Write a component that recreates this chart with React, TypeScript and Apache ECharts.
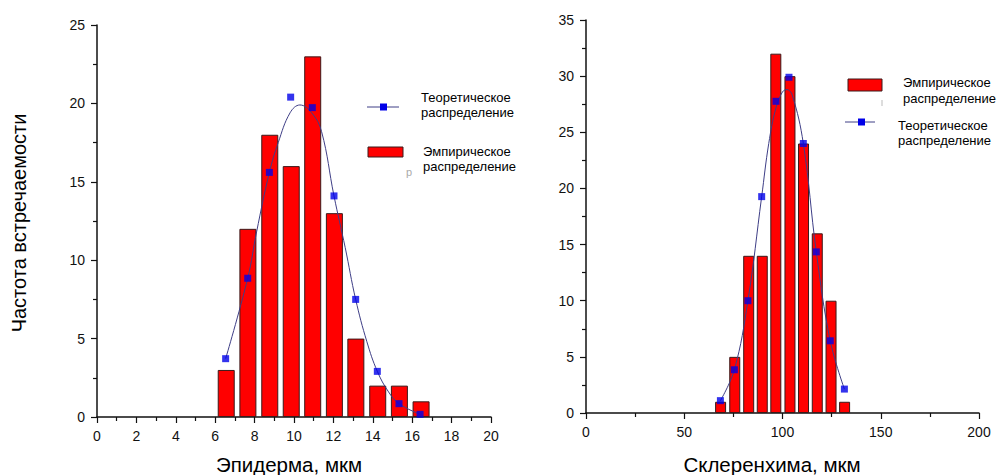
import React, { useEffect, useRef } from "react";
import * as echarts from "echarts";

// ---- Left chart: Эпидерма ----
const epiBarX = [6.56, 7.66, 8.77, 9.86, 10.95, 12.05, 13.14, 14.25, 15.35, 16.45];
const epiBarY = [3, 12, 18, 16, 23, 13, 5, 2, 2, 1];
const epiTheoX = [6.53, 7.65, 8.75, 9.83, 10.93, 12.03, 13.13, 14.23, 15.33, 16.4];
const epiTheoY = [3.72, 8.85, 15.6, 20.4, 19.73, 14.1, 7.5, 2.91, 0.85, 0.17];
const epiCurveX = [6.53, 7.65, 8.1, 8.75, 9.2, 9.8, 10.3, 10.9, 11.4, 12.03, 12.6, 13.13, 13.7, 14.23, 14.8, 15.33, 16.4];
const epiCurveY = [3.72, 8.85, 11.8, 15.6, 17.5, 19.4, 19.9, 19.4, 18.2, 14.1, 10.8, 7.5, 4.8, 2.91, 1.6, 0.85, 0.17];

// ---- Right chart: Склеренхима ----
const sklBarX = [68.5, 75.7, 82.8, 89.7, 96.6, 103.8, 110.7, 117.7, 124.7, 131.6];
const sklBarY = [1, 5, 14, 14, 32, 30, 24, 16, 10, 1];
const sklTheoX = [68.4, 75.5, 82.4, 89.4, 96.7, 103.3, 110.6, 117.2, 124.3, 131.5];
const sklTheoY = [1.1, 3.85, 10.0, 19.27, 27.76, 29.9, 24.0, 14.35, 6.43, 2.13];
const sklCurveX = [68.4, 75.5, 82.4, 89.4, 93, 96.7, 100, 102.3, 105, 110.6, 117.2, 124.3, 131.5];
const sklCurveY = [1.1, 3.85, 10.0, 19.27, 24.0, 27.2, 28.6, 28.8, 28.3, 24.0, 14.35, 6.43, 2.13];

const yTitle = "Частота встречаемости";
const epiTitle = "Эпидерма, мкм";
const sklTitle = "Склеренхима, мкм";
const theoName = "Теоретическое\nраспределение";
const empName = "Эмпирическое\nраспределение";

const FONT = "Arial, 'Liberation Sans', sans-serif";
const RED = "#ff0000";
const BLUE = "#0000e8";
const LINE = "#3e3e86";

const zip = (a: number[], b: number[]) => a.map((v, i) => [v, b[i]]);

function axisCommon() {
  return {
    axisLine: { show: true, onZero: false, lineStyle: { color: "#111", width: 1.5 } },
    axisTick: { show: true, inside: false, length: 6, lineStyle: { color: "#111", width: 1.2 } },
    minorTick: { show: true, splitNumber: 2, length: 4, lineStyle: { color: "#111", width: 1.2 } },
    splitLine: { show: false },
    minorSplitLine: { show: false },
    axisLabel: { color: "#111", fontSize: 14, fontFamily: FONT, margin: 12 },
  };
}

export default function App() {
  const ref = useRef<HTMLDivElement>(null);
  useEffect(() => {
    if (!ref.current) return;
    const chart = echarts.init(ref.current, undefined, { renderer: "svg" });
    const txt = (x: number, y: number, text: string, extra: any = {}) => ({
      type: "text",
      x,
      y,
      style: {
        text,
        font: `13px ${FONT}`,
        fill: "#000",
        lineHeight: 15,
        verticalAlign: "top",
        ...extra,
      },
      z: 10,
    });
    chart.setOption({
      animation: false,
      backgroundColor: "#fff",
      grid: [
        { left: 97, top: 25, width: 394, height: 392, containLabel: false },
        { left: 586, top: 20, width: 393, height: 393, containLabel: false },
      ],
      xAxis: [
        { type: "value", gridIndex: 0, min: 0, max: 20, interval: 2, ...axisCommon() },
        { type: "value", gridIndex: 1, min: 0, max: 200, interval: 50, ...axisCommon() },
      ],
      yAxis: [
        { type: "value", gridIndex: 0, min: 0, max: 25, interval: 5, ...axisCommon() },
        { type: "value", gridIndex: 1, min: 0, max: 35, interval: 5, ...axisCommon() },
      ],
      series: [
        {
          type: "bar",
          name: "Эмпирическое распределение",
          xAxisIndex: 0,
          yAxisIndex: 0,
          barWidth: 17,
          data: zip(epiBarX, epiBarY),
          itemStyle: { color: RED, borderColor: "#3a1a1a", borderWidth: 1 },
        },
        {
          type: "line",
          xAxisIndex: 0,
          yAxisIndex: 0,
          smooth: 0.4,
          showSymbol: false,
          data: zip(epiCurveX, epiCurveY),
          lineStyle: { color: LINE, width: 1 },
          z: 3,
        },
        {
          type: "scatter",
          name: "Теоретическое распределение",
          xAxisIndex: 0,
          yAxisIndex: 0,
          symbol: "rect",
          symbolSize: 7,
          data: zip(epiTheoX, epiTheoY),
          itemStyle: { color: BLUE },
          z: 4,
        },
        {
          type: "bar",
          name: "Эмпирическое распределение",
          xAxisIndex: 1,
          yAxisIndex: 1,
          barWidth: 11,
          data: zip(sklBarX, sklBarY),
          itemStyle: { color: RED, borderColor: "#3a1a1a", borderWidth: 1 },
        },
        {
          type: "line",
          xAxisIndex: 1,
          yAxisIndex: 1,
          smooth: 0.4,
          showSymbol: false,
          data: zip(sklCurveX, sklCurveY),
          lineStyle: { color: LINE, width: 1 },
          z: 3,
        },
        {
          type: "scatter",
          name: "Теоретическое распределение",
          xAxisIndex: 1,
          yAxisIndex: 1,
          symbol: "rect",
          symbolSize: 7,
          data: zip(sklTheoX, sklTheoY),
          itemStyle: { color: BLUE },
          z: 4,
        },
      ],
      graphic: [
        // axis titles
        {
          type: "text",
          x: 19,
          y: 223,
          rotation: Math.PI / 2,
          style: {
            text: yTitle,
            font: `20px ${FONT}`,
            fill: "#000",
            align: "center",
            verticalAlign: "middle",
          },
        },
        {
          type: "text",
          x: 289,
          y: 464,
          style: { text: epiTitle, font: `20.5px ${FONT}`, fill: "#000", align: "center", verticalAlign: "middle" },
        },
        {
          type: "text",
          x: 772,
          y: 464,
          style: { text: sklTitle, font: `20.5px ${FONT}`, fill: "#000", align: "center", verticalAlign: "middle" },
        },
        // left legend
        { type: "line", shape: { x1: 367, y1: 107, x2: 399, y2: 107 }, style: { stroke: LINE, lineWidth: 1 }, z: 10 },
        { type: "rect", shape: { x: 380, y: 103.5, width: 7, height: 7 }, style: { fill: BLUE }, z: 11 },
        txt(421, 89.5, theoName),
        { type: "rect", shape: { x: 368, y: 147, width: 35, height: 10 }, style: { fill: RED, stroke: "#3a1a1a", lineWidth: 1 }, z: 10 },
        txt(423, 143.5, empName),
        txt(406, 164, "р", { fill: "#aaa", font: `11px ${FONT}` }),
        // right legend
        { type: "rect", shape: { x: 848, y: 79, width: 34, height: 12 }, style: { fill: RED, stroke: "#3a1a1a", lineWidth: 1 }, z: 10 },
        txt(903, 75, empName, { lineHeight: 15.5 }),
        { type: "line", shape: { x1: 882, y1: 100, x2: 882, y2: 106 }, style: { stroke: "#bbb", lineWidth: 1 }, z: 10 },
        { type: "line", shape: { x1: 845, y1: 122, x2: 875, y2: 122 }, style: { stroke: LINE, lineWidth: 1 }, z: 10 },
        { type: "rect", shape: { x: 858, y: 118.5, width: 7, height: 7 }, style: { fill: BLUE }, z: 11 },
        txt(898, 117.5, theoName),
      ],
    });
    return () => chart.dispose();
  }, []);
  return (
    <div
      ref={ref}
      style={{ position: "fixed", left: 0, top: 0, width: 1000, height: 475, background: "#fff" }}
    />
  );
}
